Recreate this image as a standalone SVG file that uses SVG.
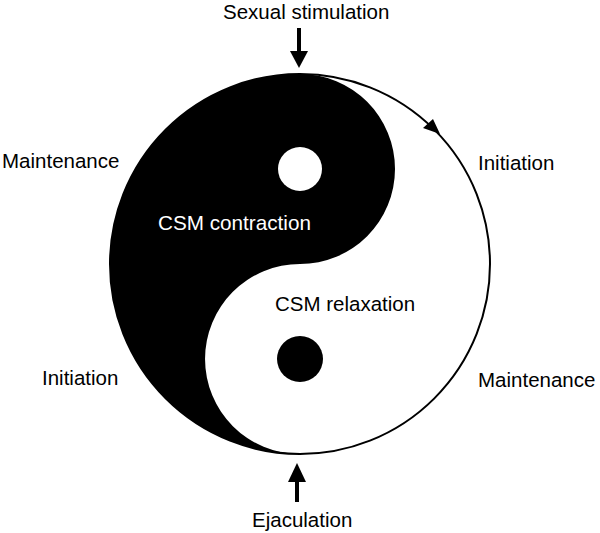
<svg xmlns="http://www.w3.org/2000/svg" width="600" height="533" viewBox="0 0 600 533">
<style>
.lbl{font-family:"Liberation Sans",Arial,sans-serif;font-size:20.5px;fill:#000}
.wlbl{font-family:"Liberation Sans",Arial,sans-serif;font-size:20.7px;fill:#fff}
.shaft{stroke:#000;stroke-width:4;fill:none}
</style>
<rect width="600" height="533" fill="#fff"/>
<g id="yinyang">
<circle cx="300" cy="264" r="190" fill="#fff" stroke="#000" stroke-width="2"/>
<path d="M300 74 A190 190 0 0 0 300 454 A95 95 0 0 1 300 264 A95 95 0 0 0 300 74 Z" fill="#000"/>
<circle cx="300" cy="169" r="22" fill="#fff"/>
<circle cx="300" cy="359" r="23" fill="#000"/>
<polygon points="440,134 423,128 433,119" fill="#000"/>
</g>
<g id="connectors">
<line class="shaft" x1="299" y1="28" x2="299" y2="54"/>
<polygon points="290,51 308,51 299,68" fill="#000"/>
<line class="shaft" x1="297" y1="480" x2="297" y2="502"/>
<polygon points="288,482 306,482 297,463" fill="#000"/>
</g>
<g id="n-sexual"><text class="lbl" x="223" y="19">Sexual stimulation</text></g>
<g id="n-ejac"><text class="lbl" x="252" y="527">Ejaculation</text></g>
<g id="n-maint-l"><text class="lbl" x="2" y="168">Maintenance</text></g>
<g id="n-init-l"><text class="lbl" x="42" y="385">Initiation</text></g>
<g id="n-init-r"><text class="lbl" x="478" y="170">Initiation</text></g>
<g id="n-maint-r"><text class="lbl" x="478" y="387">Maintenance</text></g>
<g id="n-contr"><text class="wlbl" x="158" y="230">CSM contraction</text></g>
<g id="n-relax"><text class="lbl" x="275" y="311">CSM relaxation</text></g>
</svg>
